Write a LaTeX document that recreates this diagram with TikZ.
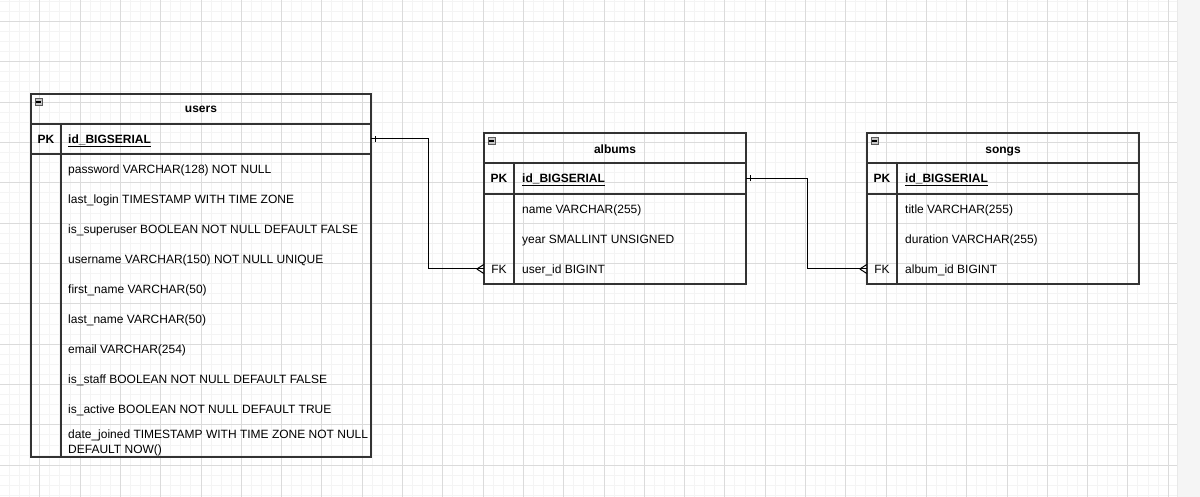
\documentclass[tikz,border=0pt]{standalone}
\usepackage{fontspec}
\setmainfont{Liberation Sans}
\usetikzlibrary{decorations.markings}
\definecolor{gridminor}{HTML}{F4F4F4}
\definecolor{gridmajor}{HTML}{DBDBDB}
\definecolor{tblline}{HTML}{333333}
\definecolor{panel}{HTML}{F5F5F5}
\def\userfields{
    {password VARCHAR(128) NOT NULL},
    {last\_login TIMESTAMP WITH TIME ZONE},
    {is\_superuser BOOLEAN NOT NULL DEFAULT FALSE},
    {username VARCHAR(150) NOT NULL UNIQUE},
    {first\_name VARCHAR(50)},
    {last\_name VARCHAR(50)},
    {email VARCHAR(254)},
    {is\_staff BOOLEAN NOT NULL DEFAULT FALSE},
    {is\_active BOOLEAN NOT NULL DEFAULT TRUE}
}
\def\albumfields{
    {name VARCHAR(255)},
    {year SMALLINT UNSIGNED}
}
\def\songfields{
    {title VARCHAR(255)},
    {duration VARCHAR(255)}
}

\begin{document}
\begin{tikzpicture}[
    x=1pt, y=-1pt,
    every node/.style={font=\fontsize{12}{15}\selectfont, text=black},
    tbl/.style={draw=tblline, line width=1.2pt, inner sep=0pt},
    sep/.style={draw=tblline, line width=1.2pt},
    hdr/.style={font=\fontsize{12}{15}\selectfont\bfseries},
    field/.style={anchor=west, inner sep=0pt, text height=8.6pt, text depth=0pt},
    key/.style={inner sep=0pt, text height=8.6pt, text depth=0pt},
    row/.style={inner sep=0pt, minimum height=30pt},
    grip/.style={draw=gray!70!black, fill=gray!45, minimum size=7pt, inner sep=0pt},
    relation/.style={draw=black, line width=1pt, postaction={decorate},
        decoration={markings,
            mark=at position 4pt with {\draw[line width=1pt] (0,-3pt) -- (0,3pt);},
            mark=at position 1 with {\draw[line width=1pt] (-7pt,0) -- (0,-4.5pt) (-7pt,0) -- (0,4.5pt);}}}
]
  \useasboundingbox (0,0) rectangle (1200,497);

  % background grid
  \foreach \j in {-3,...,112}
    \draw[gridminor] (39.5+10.075*\j,0) -- (39.5+10.075*\j,497);
  \foreach \j in {-2,...,47}
    \draw[gridminor] (0,21+10.09*\j) -- (1177,21+10.09*\j);
  \foreach \k in {0,...,28}
    \draw[gridmajor] (39.5+40.3*\k,0) -- (39.5+40.3*\k,497);
  \foreach \k in {0,...,11}
    \draw[gridmajor] (0,21+40.36*\k) -- (1177,21+40.36*\k);
  \fill[panel] (1177,0) rectangle (1200,497);
  \draw[gridmajor!60] (1177,0) -- (1177,497);

  % users
  \node[tbl, minimum width=340pt, minimum height=363pt] (users) at (201,275.5) {};
  \node[grip] (users-grip) at (38.5,102) {\rule{5pt}{1.2pt}};
  \node[key, hdr] (users-title) at (201,108.7) {users};
  \draw[sep] (31,124) -- (371,124) (31,154) -- (371,154) (61,124) -- (61,457);
  \node[row, minimum width=340pt] (users-pk) at (201,139) {};
  \node[key, hdr] (users-pk-key) at (46,139) {PK};
  \node[field, hdr] (users-pk-name) at (68,139) {\underline{id\_BIGSERIAL}};
  \foreach \f [count=\i] in \userfields
    \node[field] (users-f\i) at (68,139.3+30*\i) {\f};
  \node[anchor=north west, align=left, inner sep=0pt] (users-f10) at (68,429.5)
    {date\_joined TIMESTAMP WITH TIME ZONE NOT NULL\\DEFAULT NOW()};

  % albums
  \node[tbl, minimum width=262pt, minimum height=151pt] (albums) at (615,208.5) {};
  \node[grip] (albums-grip) at (491.5,141) {\rule{5pt}{1.2pt}};
  \node[key, hdr] (albums-title) at (615,148.8) {albums};
  \draw[sep] (484,163) -- (746,163) (484,194) -- (746,194) (514,163) -- (514,284);
  \node[row, minimum width=262pt] (albums-pk) at (615,178.5) {};
  \node[key, hdr] (albums-pk-key) at (499,178.5) {PK};
  \node[field, hdr] (albums-pk-name) at (522,178.5) {\underline{id\_BIGSERIAL}};
  \foreach \f [count=\i] in \albumfields
    \node[field] (albums-f\i) at (522,179.3+30*\i) {\f};
  \node[row, minimum width=262pt] (albums-fk) at (615,269) {};
  \node[key] (albums-fk-key) at (499,269.3) {FK};
  \node[field] (albums-fk-name) at (522,269.3) {user\_id BIGINT};

  % songs
  \node[tbl, minimum width=272pt, minimum height=151pt] (songs) at (1003,208.5) {};
  \node[grip] (songs-grip) at (874.5,141) {\rule{5pt}{1.2pt}};
  \node[key, hdr] (songs-title) at (1003,148.8) {songs};
  \draw[sep] (867,163) -- (1139,163) (867,194) -- (1139,194) (897,163) -- (897,284);
  \node[row, minimum width=272pt] (songs-pk) at (1003,178.5) {};
  \node[key, hdr] (songs-pk-key) at (882,178.5) {PK};
  \node[field, hdr] (songs-pk-name) at (905,178.5) {\underline{id\_BIGSERIAL}};
  \foreach \f [count=\i] in \songfields
    \node[field] (songs-f\i) at (905,179.3+30*\i) {\f};
  \node[row, minimum width=272pt] (songs-fk) at (1003,269) {};
  \node[key] (songs-fk-key) at (882,269.3) {FK};
  \node[field] (songs-fk-name) at (905,269.3) {album\_id BIGINT};

  % relations
  \draw[relation] (users-pk.east) -- ++(57,0) |- (albums-fk.west);
  \draw[relation] (albums-pk.east) -- ++(61,0) |- (songs-fk.west);

\end{tikzpicture}
\end{document}
